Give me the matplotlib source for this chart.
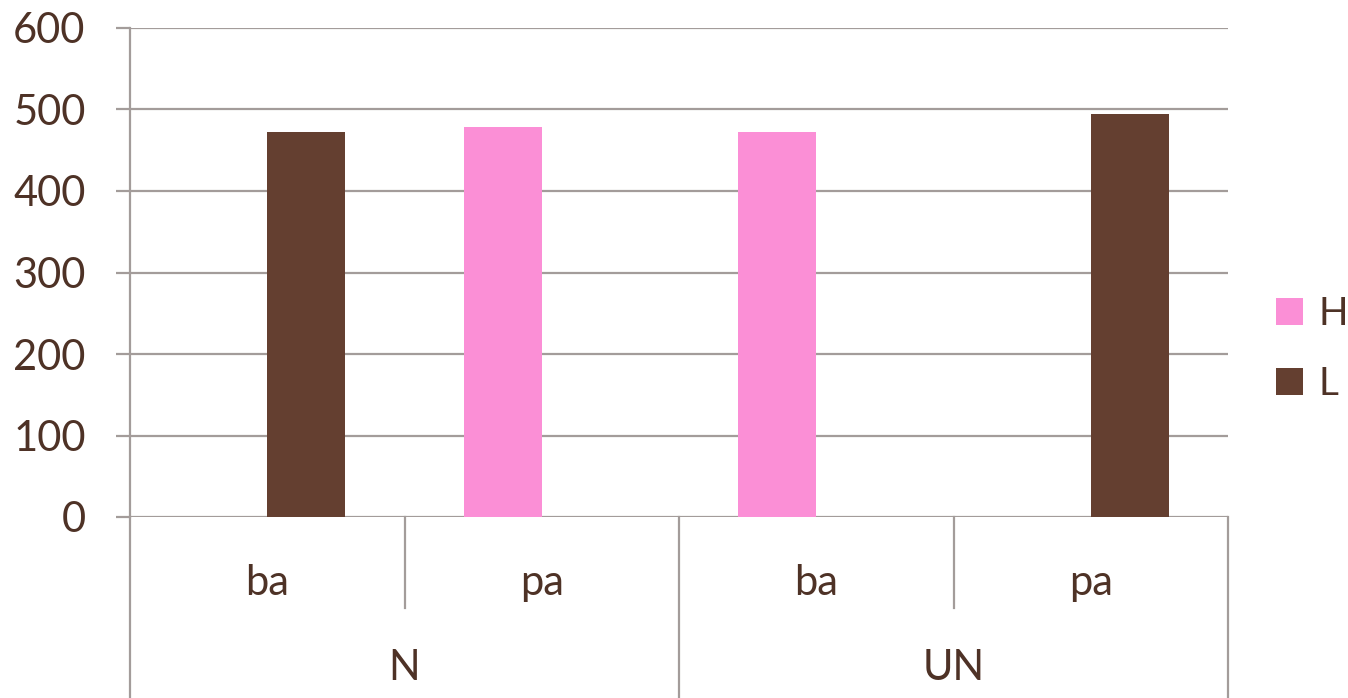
import numpy as np
import matplotlib.pyplot as plt
from matplotlib.transforms import blended_transform_factory

plt.rcParams['font.family'] = ['Lato', 'DejaVu Sans']

# two-level category axis: sound within group
groups = ["N", "UN"]
sounds = ["ba", "pa", "ba", "pa"]
h_vals = [0, 478, 472, 0]
l_vals = [472, 0, 0, 495]
yticks = [0, 100, 200, 300, 400, 500, 600]

PINK = "#fb8fd6"
BROWN = "#643f30"
TEXT = "#4e3226"
GRID = "#a39c9a"

fig = plt.figure(figsize=(13.48, 6.98), dpi=100)
ax = fig.add_axes([130/1348, 1 - 517/698, (1228-130)/1348, (517-28)/698])

x = np.arange(len(sounds))
w = 0.284
ax.bar(x - w/2, h_vals, w, color=PINK, label="H", linewidth=0)
ax.bar(x + w/2, l_vals, w, color=BROWN, label="L", linewidth=0)

ax.set_xlim(-0.5, 3.5)
ax.set_ylim(0, 600)
ax.set_yticks(yticks)
ax.set_xticks([])
for y in yticks:
    ax.axhline(y, color=GRID, lw=1.6, zorder=0)
for s in ["top", "right", "bottom"]:
    ax.spines[s].set_visible(False)
ax.spines["left"].set_color(GRID)
ax.spines["left"].set_linewidth(1.6)
ax.tick_params(axis="y", length=10, width=1.6, color=GRID, pad=22,
               labelsize=30, labelcolor=TEXT)

tr = blended_transform_factory(ax.transData, ax.transAxes)
# category dividers below the axis
px = 1 / 489  # one pixel in axes-height units
for i, xd in enumerate([-0.5, 0.5, 1.5, 2.5, 3.5]):
    bottom = -(698 - 517) * px if i % 2 == 0 else -(608 - 517) * px
    ax.plot([xd, xd], [0, bottom], transform=tr, color=GRID, lw=1.6,
            clip_on=False)

for i, s in enumerate(sounds):
    ax.text(i, -(583 - 517) * px, s, transform=tr, ha="center", va="center",
            fontsize=30, color=TEXT)
for j, g in enumerate(groups):
    ax.text(2*j + 0.5, -(668 - 517) * px, g, transform=tr, ha="center",
            va="center", fontsize=30, color=TEXT)

h, lab = ax.get_legend_handles_labels()
fig.legend(h, lab, loc="center left", bbox_to_anchor=(1276/1348, 1 - 349/698),
           frameon=False, fontsize=28, borderpad=0, borderaxespad=0,
           handlelength=0.7, handleheight=0.7, handletextpad=0.4,
           labelspacing=0.88, labelcolor=TEXT)

fig.savefig("out.png", dpi=100)
